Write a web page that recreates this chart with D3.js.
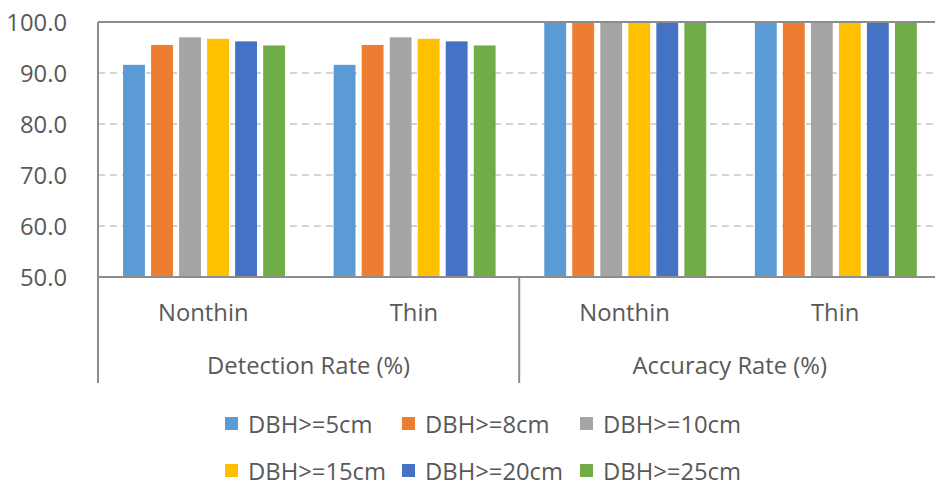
<!DOCTYPE html>
<html>
<head>
<meta charset="utf-8">
<script src="https://cdn.jsdelivr.net/npm/d3@7"></script>
<style>
  html, body { margin: 0; padding: 0; background: #fff; overflow: hidden; }
  text { font-family: "Open Sans", "Noto Sans", sans-serif; fill: #595959; }
</style>
</head>
<body>
<svg id="chart" width="935" height="488"></svg>
<script>
// ---- data ----
const metrics = ["Detection Rate (%)", "Accuracy Rate (%)"];
const treatments = ["Nonthin", "Thin"];
const seriesNames = ["DBH>=5cm", "DBH>=8cm", "DBH>=10cm", "DBH>=15cm", "DBH>=20cm", "DBH>=25cm"];
// values per series, in order: Detection/Nonthin, Detection/Thin, Accuracy/Nonthin, Accuracy/Thin
const dbh5  = [91.6, 91.6, 100.0, 100.0];
const dbh8  = [95.5, 95.5, 100.0, 100.0];
const dbh10 = [97.0, 97.0, 100.0, 100.0];
const dbh15 = [96.7, 96.7, 100.0, 100.0];
const dbh20 = [96.2, 96.2, 100.0, 100.0];
const dbh25 = [95.4, 95.4, 100.0, 100.0];
const yTicks = [50, 60, 70, 80, 90, 100];
const colors = ["#5B9BD5", "#ED7D31", "#A5A5A5", "#FFC000", "#4472C4", "#70AD47"];

const seriesValues = [dbh5, dbh8, dbh10, dbh15, dbh20, dbh25];

// ---- layout ----
const svg = d3.select("#chart");
const plotLeft = 98, plotRight = 940.4, plotTop = 22, plotBottom = 277;
const fs = 23.8;

const y = d3.scaleLinear().domain([50, 100]).range([plotBottom, plotTop]);
const xMetric = d3.scaleBand().domain(metrics).range([plotLeft, plotRight]).padding(0);
const xTreat = d3.scaleBand().domain(treatments).range([0, xMetric.bandwidth()]).padding(0);
const tb = xTreat.bandwidth();
const xSeries = d3.scaleBand().domain(seriesNames)
  .range([tb * 0.119, tb * 0.888]).paddingInner(0.22).paddingOuter(0);

// gridlines (dashed)
svg.append("g")
  .selectAll("line")
  .data(yTicks.filter(t => t > 50 && t < 100))
  .join("line")
  .attr("x1", plotLeft).attr("x2", 935)
  .attr("y1", d => y(d)).attr("y2", d => y(d))
  .attr("stroke", "#c6c6c6").attr("stroke-width", 1.3)
  .attr("stroke-dasharray", "7,5");

// bars
const cells = [];
metrics.forEach((m, mi) => {
  treatments.forEach((t, ti) => {
    seriesNames.forEach((s, si) => {
      cells.push({ m, t, s, si, v: seriesValues[si][mi * 2 + ti] });
    });
  });
});
svg.append("g")
  .selectAll("rect")
  .data(cells)
  .join("rect")
  .attr("x", d => xMetric(d.m) + xTreat(d.t) + xSeries(d.s))
  .attr("width", xSeries.bandwidth())
  .attr("y", d => y(d.v))
  .attr("height", d => y(50) - y(d.v))
  .attr("fill", d => colors[d.si]);

// top border line (100)
svg.append("line")
  .attr("x1", plotLeft).attr("x2", 935)
  .attr("y1", y(100)).attr("y2", y(100))
  .attr("stroke", "#8c8c8c").attr("stroke-width", 2);

// x axis line
svg.append("line")
  .attr("x1", plotLeft).attr("x2", 935)
  .attr("y1", y(50)).attr("y2", y(50))
  .attr("stroke", "#8c8c8c").attr("stroke-width", 2);

// y axis line (extends down through category area)
svg.append("line")
  .attr("x1", plotLeft).attr("x2", plotLeft)
  .attr("y1", y(100)).attr("y2", 383)
  .attr("stroke", "#8c8c8c").attr("stroke-width", 2);

// separator between metric groups
svg.append("g")
  .selectAll("line")
  .data(metrics.slice(1))
  .join("line")
  .attr("x1", d => xMetric(d)).attr("x2", d => xMetric(d))
  .attr("y1", y(50)).attr("y2", 383)
  .attr("stroke", "#8c8c8c").attr("stroke-width", 2);

// y tick labels
svg.append("g")
  .selectAll("text")
  .data(yTicks)
  .join("text")
  .attr("x", 67)
  .attr("y", d => y(d))
  .attr("dy", "0.36em")
  .attr("text-anchor", "end")
  .attr("font-size", fs)
  .text(d => d.toFixed(1));

// treatment labels
const treatLabels = [];
metrics.forEach(m => treatments.forEach(t => treatLabels.push({ m, t })));
svg.append("g")
  .selectAll("text")
  .data(treatLabels)
  .join("text")
  .attr("x", d => xMetric(d.m) + xTreat(d.t) + tb / 2)
  .attr("y", 321)
  .attr("text-anchor", "middle")
  .attr("font-size", fs)
  .text(d => d.t);

// metric labels
svg.append("g")
  .selectAll("text")
  .data(metrics)
  .join("text")
  .attr("x", d => xMetric(d) + xMetric.bandwidth() / 2)
  .attr("y", 374)
  .attr("text-anchor", "middle")
  .attr("font-size", fs)
  .text(d => d);

// legend
const legX = [225, 402, 580];
const legY = [424, 471];
const leg = svg.append("g")
  .selectAll("g")
  .data(seriesNames)
  .join("g")
  .attr("transform", (d, i) => `translate(${legX[i % 3]},${legY[Math.floor(i / 3)]})`);
leg.append("rect")
  .attr("x", 0).attr("y", -7)
  .attr("width", 13).attr("height", 13)
  .attr("fill", (d, i) => colors[i]);
leg.append("text")
  .attr("x", 23)
  .attr("y", 0)
  .attr("dy", "0.36em")
  .attr("font-size", fs)
  .text(d => d);
</script>
</body>
</html>
